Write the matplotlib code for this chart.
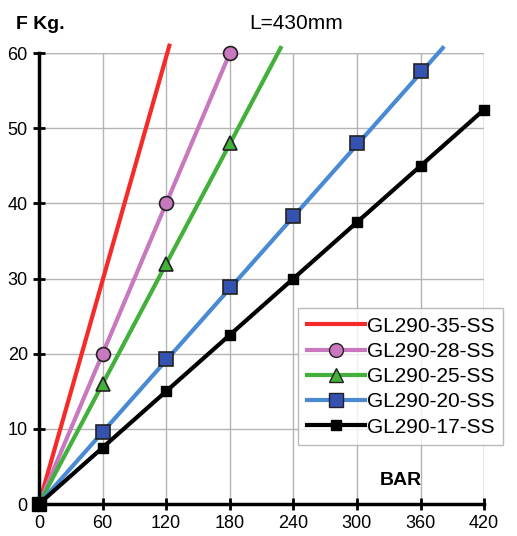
import numpy as np
import matplotlib.pyplot as plt

# data
bar_35 = [0, 123]
f_35 = [0, 61]
bar_28 = [0, 60, 120, 180]
f_28 = [0, 20, 40, 60]
bar_25 = [0, 60, 120, 180]
f_25 = [0, 16, 32, 48]
bar_25_line = [0, 228]
f_25_line = [0, 60.7]
bar_20 = [0, 60, 120, 180, 240, 300, 360]
f_20 = [0, 9.6, 19.3, 28.9, 38.4, 48, 57.6]
bar_20_line = [0, 381]
f_20_line = [0, 60.7]
bar_17 = [0, 60, 120, 180, 240, 300, 360, 420]
f_17 = [0, 7.5, 15, 22.5, 30, 37.5, 45, 52.5]

xticks = [0, 60, 120, 180, 240, 300, 360, 420]
yticks = [0, 10, 20, 30, 40, 50, 60]

plt.rcParams['font.family'] = ['Liberation Sans', 'DejaVu Sans']

fig = plt.figure(figsize=(5.17, 5.36), dpi=100)
ax = fig.add_axes([0.0754, 0.0597, 0.861, 0.841])

ax.plot(bar_35, f_35, color='#f52a2a', lw=3, clip_on=False, label='GL290-35-SS')

ax.plot(bar_28, f_28, color='#c878be', lw=3, clip_on=False)
ax.plot([], [], color='#c878be', lw=3, marker='o', ms=10, mfc='#c878be', mec='#222222', label='GL290-28-SS')
ax.plot(bar_28[1:], f_28[1:], ls='none', marker='o', ms=10, mfc='#c878be', mec='#222222', mew=1.2, clip_on=False)

ax.plot(bar_25_line, f_25_line, color='#44b03c', lw=3, clip_on=False)
ax.plot([], [], color='#44b03c', lw=3, marker='^', ms=10, mfc='#44b03c', mec='#222222', label='GL290-25-SS')
ax.plot(bar_25[1:], f_25[1:], ls='none', marker='^', ms=10, mfc='#44b03c', mec='#222222', mew=1.2, clip_on=False)

ax.plot(bar_20_line, f_20_line, color='#4a8ad2', lw=3, clip_on=False)
ax.plot([], [], color='#4a8ad2', lw=3, marker='s', ms=10, mfc='#3552b0', mec='#222222', label='GL290-20-SS')
ax.plot(bar_20[1:], f_20[1:], ls='none', marker='s', ms=10, mfc='#3552b0', mec='#222222', mew=1.2, clip_on=False)

ax.plot(bar_17, f_17, color='black', lw=3, marker='s', ms=7, mfc='black', mec='black', clip_on=False, label='GL290-17-SS', zorder=5)
ax.plot([0], [0], ls='none', marker='s', ms=10, color='black', clip_on=False, zorder=6)

ax.set_xlim(0, 420)
ax.set_ylim(0, 60)
ax.set_xticks(xticks)
ax.set_yticks(yticks)
ax.grid(True, color='#b4b4b4', lw=1)
ax.set_axisbelow(True)
for s in ['top', 'right']:
    ax.spines[s].set_visible(False)
for s in ['left', 'bottom']:
    ax.spines[s].set_linewidth(2.5)
ax.tick_params(direction='inout', length=8, width=2, labelsize=13, pad=4)

# outer grid edges
ax.axhline(60, color='#b4b4b4', lw=1, zorder=0)
ax.axvline(420, color='#b4b4b4', lw=1, zorder=0)

leg = ax.legend(loc='upper left', bbox_to_anchor=(0.583, 0.434), fontsize=15, frameon=True,
                fancybox=False, edgecolor='#aaaaaa', handlelength=2.8, handletextpad=0.1,
                borderpad=0.4, labelspacing=0.3, borderaxespad=0)
leg.get_frame().set_linewidth(1)

fig.text(0.03, 0.945, 'F Kg.', fontsize=14, fontweight='bold')
fig.text(0.483, 0.945, 'L=430mm', fontsize=15)
ax.text(0.766, 0.042, 'BAR', transform=ax.transAxes, fontsize=14, fontweight='bold')

plt.savefig('out.png', dpi=100)
